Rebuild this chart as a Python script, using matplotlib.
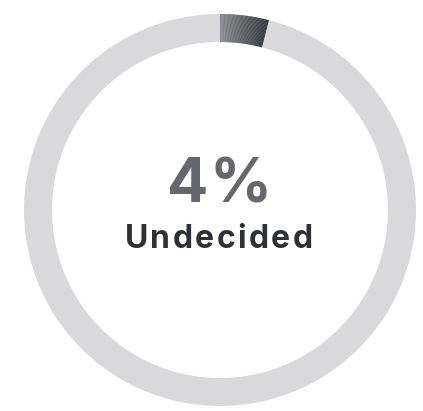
import numpy as np
import matplotlib
matplotlib.use("Agg")
import matplotlib.pyplot as plt
from matplotlib.patches import Wedge
from matplotlib.colors import LinearSegmentedColormap

# data
value = 4
total = 100
label = "Undecided"

W, H = 423, 411
fig = plt.figure(figsize=(W / 100, H / 100), dpi=100)
ax = fig.add_axes([0, 0, 1, 1])
ax.set_xlim(0, W)
ax.set_ylim(H, 0)
ax.set_aspect("equal")
ax.axis("off")

cx, cy = 220, 210
r_out, ring_w = 196, 28

# background track
ax.add_patch(Wedge((cx, cy), r_out, 0, 360, width=ring_w,
                   facecolor="#d9d9db", edgecolor="none"))

# value arc with angular gradient (clockwise from 12 o'clock; y axis is inverted)
cmap = LinearSegmentedColormap.from_list("seg", ["#85868b", "#2a2c33"])
sweep = 360 * value / total
n = 60
start = -90
for i in range(n):
    a0 = start + sweep * i / n
    a1 = start + sweep * (i + 1) / n + 0.05
    ax.add_patch(Wedge((cx, cy), r_out, a0, a1, width=ring_w,
                       facecolor=cmap(i / (n - 1)), edgecolor="none"))

renderer = fig.canvas.get_renderer()


def spaced_text(x, y, s, spacing, **kw):
    # draw a string char by char with extra letter spacing (pixels), centred on x
    def width(t):
        tmp = ax.text(0, 0, t, **kw)
        w = tmp.get_window_extent(renderer).width
        tmp.remove()
        return w
    total_w = width(s) + spacing * (len(s) - 1)
    x0 = x - total_w / 2
    for k, ch in enumerate(s):
        off = width(s[:k]) if k else 0
        ax.text(x0 + off + spacing * k, y, ch, ha="left", va="baseline", **kw)


spaced_text(219.5, 202, f"{value}%", 1, fontsize=44, fontweight="bold",
            family="Inter", color="#66676c")
spaced_text(218.5, 247.5, label, 2.4, fontsize=23, fontweight="bold",
            family="Inter", color="#2e3036")

fig.savefig("out.png", dpi=100, facecolor="white")
